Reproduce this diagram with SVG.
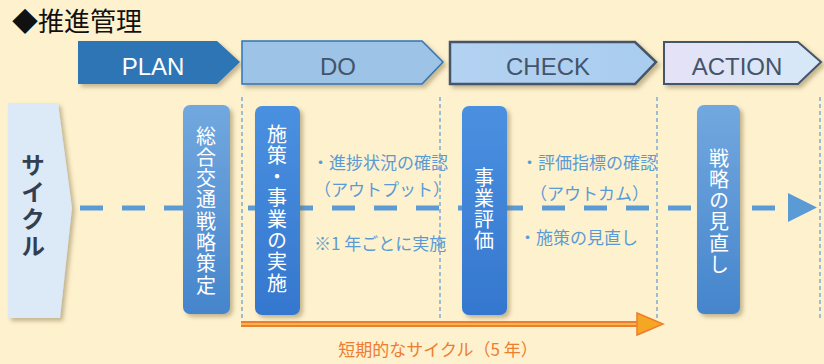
<svg xmlns="http://www.w3.org/2000/svg" width="824" height="364" viewBox="0 0 824 364">
<defs>
<style>
.jp{font-family:"Noto Sans CJK JP","Noto Sans",sans-serif}
.ph{font-family:"Liberation Sans",Arial,sans-serif;font-size:24px;text-anchor:middle}
.vt{font-family:"Noto Sans CJK JP",sans-serif;font-size:20px;fill:#ffffff;writing-mode:vertical-rl;letter-spacing:1.3px}
.lbl{font-family:"Noto Sans CJK JP",sans-serif;font-size:17px;fill:#5B9BD5}
.vdash{stroke:#5B9BD5;stroke-width:1.2;stroke-dasharray:4 3;fill:none}
</style>
<linearGradient id="gA" x1="0" y1="0" x2="0" y2="1"><stop offset="0" stop-color="#72A8DF"/><stop offset="1" stop-color="#4585CC"/></linearGradient>
<linearGradient id="gB" x1="0" y1="0" x2="0" y2="1"><stop offset="0" stop-color="#4A90E0"/><stop offset="1" stop-color="#3577CF"/></linearGradient>
<linearGradient id="gC" x1="0" y1="0" x2="1" y2="0"><stop offset="0" stop-color="#B4D2F2"/><stop offset="1" stop-color="#A9CDEF"/></linearGradient>
<linearGradient id="gD" x1="0" y1="0" x2="1" y2="0"><stop offset="0" stop-color="#E6E2F6"/><stop offset="1" stop-color="#D4E8F8"/></linearGradient>
<filter id="sh" x="-20%" y="-20%" width="150%" height="150%"><feDropShadow dx="3" dy="3" stdDeviation="2" flood-color="#7a6a40" flood-opacity="0.45"/></filter>
</defs>
<rect width="824" height="364" fill="#FEF1CD"/>
<text class="jp" x="12" y="31" font-size="26" fill="#111">◆推進管理</text>

<g id="phases">
<g id="plan"><polygon points="78,41 217,41 240,62 217,84 78,84" fill="#2E75B6" filter="url(#sh)"/><text class="ph" x="153" y="75" fill="#ffffff">PLAN</text></g>
<g id="do"><polygon points="242,41 422,41 443,62 422,84 242,84" fill="#9DC3E6" stroke="#2E75B6" stroke-width="1.5" filter="url(#sh)"/><text class="ph" x="338" y="75" fill="#44546A">DO</text></g>
<g id="check"><polygon points="450,42 635,42 656,62 635,84 450,84" fill="url(#gC)" stroke="#44546A" stroke-width="2.5" filter="url(#sh)"/><text class="ph" x="548" y="75" fill="#44546A">CHECK</text></g>
<g id="action"><polygon points="664,42 798,42 821,62 798,84 664,84" fill="url(#gD)" stroke="#44546A" stroke-width="2" filter="url(#sh)"/><text class="ph" x="737" y="75" fill="#44546A">ACTION</text></g>
</g>

<g id="guides">
<line class="vdash" x1="242" y1="97" x2="242" y2="320"/>
<line class="vdash" x1="440" y1="97" x2="440" y2="318"/>
<line class="vdash" x1="657" y1="97" x2="657" y2="318"/>
<line class="vdash" x1="820" y1="97" x2="820" y2="318"/>
</g>

<g id="cycle">
<polygon points="8,103 58,103 72,208 60,318 8,318" fill="#DCE9F7" filter="url(#sh)"/>
<text class="jp" x="33" y="153" font-size="24" font-weight="bold" fill="#333F50" writing-mode="vertical-rl" letter-spacing="3">サイクル</text>
</g>

<g id="connectors">
<line x1="80" y1="208" x2="784" y2="208" stroke="#5B9BD5" stroke-width="5" stroke-dasharray="23 19"/>
<polygon points="788,193 817,207.5 788,222" fill="#5B9BD5"/>
<g id="short-cycle">
<line x1="241" y1="324" x2="640" y2="324" stroke="#ED7D31" stroke-width="6"/>
<line x1="241" y1="324" x2="640" y2="324" stroke="#F9B54A" stroke-width="2"/>
<polygon points="637,313 663,324 637,335" fill="#F5A623" stroke="#ED7D31" stroke-width="1.5"/>
</g>
</g>

<g id="n-plan">
<rect x="183" y="105" width="47" height="209" rx="7" fill="url(#gA)" filter="url(#sh)"/>
<text class="vt" x="206" y="126">総合交通戦略策定</text>
</g>

<g id="n-do">
<rect x="255" y="106" width="45" height="209" rx="7" fill="url(#gB)" filter="url(#sh)"/>
<text class="vt" x="277" y="124">施策・事業の実施</text>
</g>

<g id="n-check">
<rect x="462" y="106" width="45" height="209" rx="7" fill="url(#gB)" filter="url(#sh)"/>
<text class="vt" x="484" y="167">事業評価</text>
</g>

<g id="n-action">
<rect x="697" y="105" width="43" height="209" rx="7" fill="url(#gA)" filter="url(#sh)"/>
<text class="vt" x="719" y="148">戦略の見直し</text>
</g>

<g id="labels">
<text class="lbl" x="312" y="169">・進捗状況の確認</text>
<text class="lbl" x="314" y="196">（アウトプット）</text>
<text class="lbl" x="314" y="250">※1 年ごとに実施</text>
<text class="lbl" x="521" y="169">・評価指標の確認</text>
<text class="lbl" x="530" y="200">（アウトカム）</text>
<text class="lbl" x="519" y="244">・施策の見直し</text>
<text class="jp" x="438" y="356" font-size="17" fill="#ED7D31" text-anchor="middle">短期的なサイクル（5 年）</text>
</g>
</svg>
